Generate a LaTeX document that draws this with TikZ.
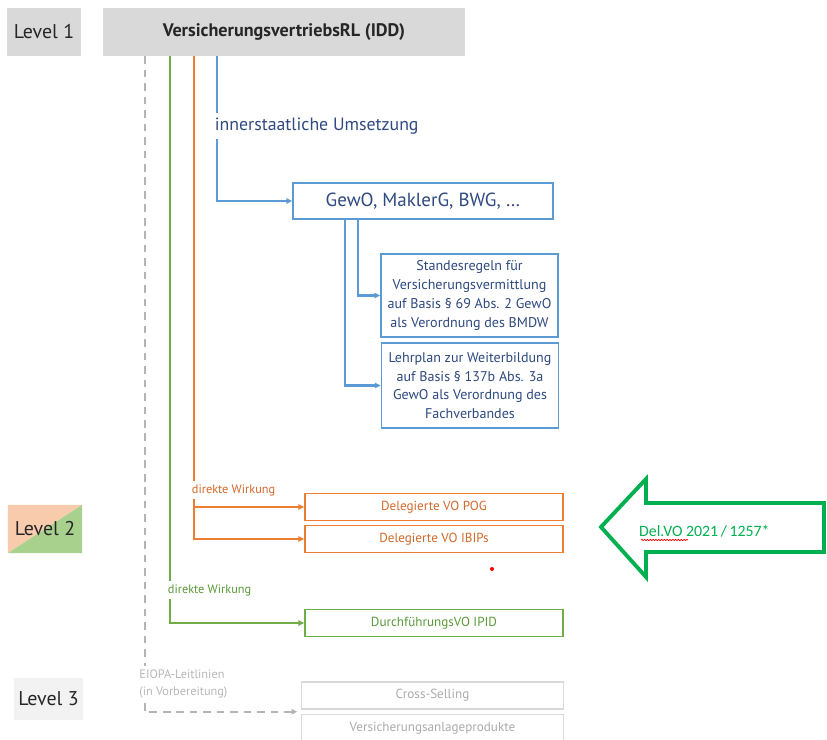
\documentclass[tikz,border=0pt]{standalone}
\usepackage{fontspec}
\setmainfont{PT Sans}
\newfontfamily\calfont{Carlito}
\usetikzlibrary{arrows.meta,calc,backgrounds,decorations.pathmorphing}
\definecolor{lgrey}{HTML}{D9D9D9}
\definecolor{pgrey}{HTML}{F2F2F2}
\definecolor{dgrey}{HTML}{262626}
\definecolor{fgrey}{HTML}{ABABAB}
\definecolor{dashgrey}{HTML}{B4B4B4}
\definecolor{iblue}{HTML}{5B9BD5}
\definecolor{nblue}{HTML}{2F4A80}
\definecolor{iorange}{HTML}{ED7D31}
\definecolor{torange}{HTML}{D2692A}
\definecolor{igreen}{HTML}{70AD47}
\definecolor{tgreen}{HTML}{5A9A3A}
\definecolor{agreen}{HTML}{00B050}
\definecolor{ltorange}{HTML}{F8CBAD}
\definecolor{ltgreen}{HTML}{A9D18E}

\begin{document}
\begin{tikzpicture}[x=0.03cm,y=-0.03cm,
  lvl/.style={fill=lgrey,minimum width=2.22cm,minimum height=1.44cm,
              font=\fontsize{17}{19}\selectfont,text=dgrey},
  box/.style={draw=iblue,line width=1.5pt,fill=white,align=center,text=nblue,
              inner sep=1pt},
  obox/.style={box,draw=iorange,text=torange,minimum width=7.74cm,
               minimum height=0.81cm,font=\fontsize{11.2}{13}\selectfont},
  gbox/.style={obox,draw=igreen,text=tgreen},
  fbox/.style={obox,draw=lgrey,text=fgrey,minimum width=7.86cm},
  lnk/.style={line width=2pt,-{Triangle[length=1.7mm,width=1.6mm]}},
  tag/.style={fill=white,anchor=west,inner xsep=1pt,inner ysep=3pt,
              font=\fontsize{10.5}{12}\selectfont}]

  \useasboundingbox (0,0) rectangle (827,740);

  % levels
  \node[lvl] (lv1) at (44,32) {Level 1};
  \node[lvl,fill=none] (lv2) at (45,529) {Level 2};
  \node[lvl,fill=pgrey,minimum width=2.01cm,minimum height=1.26cm] (lv3)
        at (48.5,699) {Level 3};
  \begin{scope}[on background layer]
    \fill[ltorange] (lv2.south west) -- (lv2.north west) -- (lv2.north east) -- cycle;
    \fill[ltgreen] (lv2.south west) -- (lv2.south east) -- (lv2.north east) -- cycle;
  \end{scope}

  \node[lvl,minimum width=10.86cm,font=\fontsize{15.5}{17}\selectfont\bfseries]
        (idd) at (284,32) {VersicherungsvertriebsRL (IDD)};

  % national law
  \node[box,minimum width=7.8cm,minimum height=1.08cm,
        font=\fontsize{16.2}{18}\selectfont] (gewo) at (423,201)
        {GewO, MaklerG, BWG, …};
  \node[box,minimum width=5.31cm,minimum height=2.49cm,
        font=\fontsize{12}{16}\selectfont] (std) at (469.5,295.5)
        {Standesregeln für\\Versicherungsvermittlung\\auf Basis § 69 Abs. 2 GewO\\als Verordnung des BMDW};
  \node[box,minimum width=5.31cm,minimum height=2.55cm,
        font=\fontsize{12}{16}\selectfont] (lehr) at (470,385.5)
        {Lehrplan zur Weiterbildung\\auf Basis § 137b Abs. 3a\\GewO als Verordnung des\\Fachverbandes};

  % level 2 / 3 acts
  \node[obox] (pog) at (434,507) {Delegierte VO POG};
  \node[obox] (ibips) at (434,539) {Delegierte VO IBIPs};
  \node[gbox] (ipid) at (434,623) {DurchführungsVO IPID};
  \node[fbox] (cross) at (432.5,695.5) {Cross-Selling};
  \node[fbox] (vap) at (432.5,728) {Versicherungsanlageprodukte};
  \coordinate (l3in) at ($(cross.south west)!0.5!(vap.north west)$);

  % connectors
  \draw[lnk,color=iblue] ($(idd.south west)+(114,0)$) |- (gewo.west);
  \draw[lnk,color=iblue] ($(gewo.south west)+(66,0)$) |- (std.west);
  \draw[lnk,color=iblue] ($(gewo.south west)+(53,0)$) |- (lehr.west);
  \draw[lnk,color=iorange] ($(idd.south west)+(91,0)$) |- (pog.west);
  \draw[lnk,color=iorange] ($(idd.south west)+(91,0)$) |- (ibips.west);
  \draw[lnk,color=igreen] ($(idd.south west)+(67,0)$) |- (ipid.west);
  \draw[lnk,color=dashgrey,line width=1.6pt,dash pattern=on 6.5pt off 5pt,
        shorten >=1mm] ($(idd.south west)+(42,0)$) |- (l3in);

  \node[tag,text=nblue,font=\fontsize{15.2}{17}\selectfont,inner ysep=4pt] (umst)
        at (213.5,126) {innerstaatliche Umsetzung};
  \node[tag,text=torange] (dw1) at (190.5,490) {direkte Wirkung};
  \node[tag,text=tgreen] (dw2) at (166.5,590) {direkte Wirkung};
  \node[tag,text=lgrey!85!black,align=left,font=\fontsize{10.5}{14.5}\selectfont]
        (eiopa) at (138,683.5) {EIOPA-Leitlinien\\(in Vorbereitung)};

  % delegated act arrow
  \draw[agreen,line width=3.3pt] (824,503) -- (646,503) -- (646,479) -- (601,527)
        -- (646,577) -- (646,552) -- (824,552) -- cycle;
  \node[anchor=west,text=agreen,inner sep=0pt,font=\calfont\fontsize{13.5}{15}\selectfont]
        (delvo) at (639,531) {Del.VO 2021\,/\,1257*};
  \draw[red,line width=0.6pt,decorate,decoration={snake,amplitude=0.6pt,segment length=2.4pt}]
        (641,540) -- (688,540);
  \fill[red] (492,569) circle[radius=1.7pt];
\end{tikzpicture}
\end{document}
